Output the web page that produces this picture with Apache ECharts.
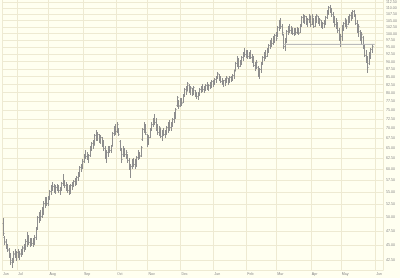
<!DOCTYPE html>
<html><head><meta charset="utf-8">
<script src="https://cdn.jsdelivr.net/npm/echarts@6/dist/echarts.min.js"></script>
<style>html,body{margin:0;padding:0;background:#fffff0}#c{width:400px;height:278px}</style>
</head><body><div id="c"></div>
<script>
const startDate = '2005-06-17';
const endDate = '2006-06-07';
const monthNames = ['Jan','Feb','Mar','Apr','May','Jun','Jul','Aug','Sep','Oct','Nov','Dec'];
const priceTicks = [42.5,45,47.5,50,52.5,55,57.5,60,62.5,65,67.5,70,72.5,75,77.5,80,82.5,85,87.5,90,92.5,95,97.5,100,102.5,105,107.5,110,112.5];
const supportLevel = 96.0;
const supportFrom = '2006-03-07';
const supportTo = '2006-05-31';

const opens = [
49.0,46.4,45.8,45.0,44.3,43.4,42.5,42.6,43.6,43.2,
43.8,43.4,43.6,44.0,44.6,45.0,45.8,46.2,45.6,46.0,45.4,45.9,46.5,48.0,50.0,50.6,50.2,51.6,52.8,53.4,52.8,
54.0,55.2,56.0,56.2,55.6,56.1,55.8,55.4,55.8,57.0,56.8,56.4,55.9,55.4,55.2,56.5,57.0,57.3,57.8,58.3,59.0,60.5,60.9,
61.9,63.2,63.0,62.6,63.2,65.2,66.2,65.6,68.2,67.8,68.6,66.9,67.6,65.9,64.9,63.0,64.0,65.0,64.4,65.5,68.7,70.2,
69.2,70.0,66.8,64.9,63.4,64.8,63.5,63.2,62.0,60.4,60.8,61.8,61.2,60.9,62.8,64.0,63.2,67.2,69.8,70.8,68.4,
66.2,67.8,69.8,71.2,72.3,71.6,70.2,69.0,70.0,68.0,69.2,68.5,69.3,70.3,71.2,70.2,71.3,72.4,74.0,76.4,77.6,76.3,
78.0,77.4,79.4,81.2,81.0,82.5,80.8,81.3,79.8,80.7,79.4,79.0,80.0,81.2,81.8,81.0,81.8,82.4,81.6,82.5,83.0,83.6,
82.8,84.3,85.0,85.8,84.4,83.6,83.0,83.8,84.2,84.5,83.4,85.0,84.2,85.6,87.4,89.5,90.2,88.6,90.2,91.6,93.0,92.6,
93.6,91.8,93.0,91.6,90.2,88.9,88.0,88.2,85.8,87.4,89.4,91.5,92.9,92.0,94.3,95.7,97.2,96.4,98.7,99.5,
99.4,102.5,104.8,103.0,99.5,95.5,97.8,101.0,102.5,101.2,102.0,100.3,101.8,100.5,102.0,100.6,103.3,106.3,105.0,106.8,104.2,105.6,106.6,
103.8,106.0,103.0,106.4,106.8,104.6,105.2,103.0,104.0,105.0,106.5,108.9,110.5,109.2,107.6,105.2,103.6,104.3,101.2,98.2,
99.2,102.8,104.0,105.2,103.7,106.4,107.2,108.0,108.8,107.4,104.2,101.2,101.0,98.2,98.8,95.2,92.4,90.4,89.4,92.8,94.2
];
const highs = [
49.8,46.6,46.0,45.3,44.6,43.7,42.9,44.0,44.3,44.0,
44.3,44.0,44.3,44.9,45.3,46.0,47.4,46.7,46.3,46.3,46.3,46.7,48.2,50.3,51.1,51.5,51.9,53.1,53.9,53.9,54.3,
55.5,56.4,57.2,56.8,56.4,56.8,56.4,56.0,57.2,58.9,57.6,57.2,56.8,56.4,56.8,57.2,57.6,58.0,58.5,59.3,60.8,61.2,62.2,
63.5,64.5,64.0,63.5,65.5,66.5,67.0,68.6,69.6,69.1,68.6,68.1,67.6,67.0,65.5,64.5,65.5,65.5,65.8,69.1,70.6,71.1,
71.6,70.1,67.0,65.0,65.5,65.0,64.5,63.5,62.6,61.2,62.2,62.6,62.2,63.1,64.5,64.0,65.5,70.1,71.6,71.1,68.6,
68.1,70.1,71.6,72.7,73.9,72.7,71.1,70.6,70.1,69.6,70.1,69.6,70.6,71.6,72.2,71.6,72.7,74.4,75.5,79.1,77.9,78.5,
78.5,79.7,81.5,82.1,83.3,82.7,82.1,81.5,82.1,80.9,80.3,80.3,81.5,82.1,82.7,82.1,82.7,83.3,82.7,83.3,84.0,84.0,
84.6,85.3,86.6,85.9,85.3,84.6,84.0,84.6,85.3,84.6,85.3,85.3,85.9,87.2,89.8,91.9,91.3,90.5,91.9,93.3,94.7,94.0,
94.0,93.3,94.0,92.6,91.9,89.8,90.5,88.5,87.9,89.8,91.9,93.3,94.0,94.7,96.1,97.6,98.3,99.1,99.9,100.6,
102.9,105.3,106.1,103.7,99.9,98.3,101.4,102.9,103.7,102.9,102.2,102.2,102.2,102.5,102.2,103.7,106.9,107.7,107.3,106.9,106.1,107.7,106.9,
107.7,106.1,106.9,107.7,106.9,106.1,105.3,104.5,105.3,106.9,109.3,111.0,111.4,110.2,108.5,106.9,106.1,104.5,102.2,99.9,
103.3,104.5,106.1,105.3,106.9,107.7,108.5,109.3,109.3,107.7,105.3,103.7,101.4,100.6,99.1,96.1,94.0,91.9,93.3,94.7,96.1
];
const lows = [
46.8,45.3,44.6,44.0,43.0,42.0,41.4,42.3,43.0,42.6,
43.0,42.8,43.2,43.6,44.0,44.3,44.9,45.3,44.9,45.1,44.9,45.3,46.0,47.8,49.2,49.6,50.0,50.7,51.9,52.3,52.3,
53.5,54.7,55.5,55.1,54.9,55.5,55.1,54.7,55.5,56.4,56.0,55.5,55.1,54.7,54.9,55.7,56.2,56.4,56.8,57.6,58.5,59.5,60.3,
61.7,62.6,62.2,61.7,63.1,64.5,65.0,66.0,67.0,67.0,66.5,66.3,65.5,64.5,62.6,61.5,63.1,64.0,64.0,65.8,68.1,68.6,
69.1,68.1,64.5,61.7,63.1,63.1,62.6,61.7,59.9,58.3,60.3,60.8,60.3,60.8,62.2,62.6,63.1,67.0,69.1,68.6,65.5,
66.0,67.6,69.6,70.6,71.1,69.6,68.6,68.1,67.6,67.0,68.1,67.6,68.6,69.1,69.6,69.6,70.6,71.6,72.7,76.1,75.5,76.1,
76.4,77.3,79.1,79.7,80.9,80.3,79.7,79.4,79.7,79.1,78.5,78.2,79.4,80.3,80.6,80.3,80.9,81.2,80.9,81.5,81.8,82.1,
82.7,83.3,84.6,84.0,83.3,82.7,82.1,82.4,83.3,82.7,83.3,83.6,84.0,84.6,87.2,88.5,87.9,88.5,89.2,90.5,91.9,91.6,
91.3,91.3,91.3,89.8,88.5,87.2,87.9,85.3,84.6,86.6,89.2,90.5,91.3,91.9,93.3,94.7,95.4,96.1,96.9,97.6,
99.1,101.4,102.2,99.9,94.7,94.0,96.9,99.9,100.6,100.3,99.9,99.5,99.9,100.3,99.9,100.6,102.9,104.5,104.1,103.7,102.9,104.5,102.9,
103.7,102.5,102.9,104.5,104.1,103.3,102.5,102.2,102.5,103.7,106.1,107.7,108.5,106.9,104.5,102.9,102.2,100.6,97.6,95.4,
97.6,101.4,102.9,102.2,103.7,104.5,105.3,106.1,106.9,103.7,100.6,99.1,97.6,96.1,94.7,91.9,89.8,86.6,89.2,91.3,93.3
];
const closes = [
47.2,45.5,44.8,44.2,43.2,42.3,42.6,43.7,43.3,43.8,
43.4,43.7,44.1,44.7,45.0,45.8,46.2,45.6,46.0,45.4,45.9,46.5,47.9,50.0,50.6,50.2,51.6,52.8,53.4,52.8,54.0,
55.2,56.0,56.2,55.6,56.1,55.8,55.4,55.8,57.0,56.8,56.4,55.9,55.4,55.2,56.5,57.0,57.3,57.8,58.3,59.0,60.5,60.9,61.9,
63.2,63.0,62.6,63.2,65.2,66.2,65.6,68.2,67.8,68.6,66.9,67.6,65.9,64.9,63.0,64.0,65.0,64.4,65.5,68.7,70.2,69.2,
71.2,68.5,64.9,62.4,65.0,63.5,64.0,62.0,60.4,60.8,61.8,61.2,60.8,62.8,64.0,63.0,65.2,69.8,70.8,69.0,66.0,
67.8,69.8,71.2,72.3,71.6,70.2,69.0,70.2,68.0,69.2,68.5,69.3,70.3,71.2,70.2,71.3,72.4,74.0,75.2,78.8,76.0,78.0,
77.0,79.4,81.2,80.4,83.0,80.8,81.6,79.8,81.8,79.4,79.0,80.0,81.2,81.8,81.0,81.8,82.4,81.6,82.5,83.0,83.6,82.6,
84.3,85.0,86.2,84.4,83.6,83.0,83.8,84.2,84.8,83.2,85.0,84.2,85.6,86.9,89.5,90.2,88.6,90.2,91.6,93.0,92.6,93.6,
91.8,93.0,91.6,90.2,88.9,88.0,89.8,85.8,87.4,89.4,91.5,92.9,92.0,94.3,95.7,97.2,96.4,98.7,99.5,98.4,
102.5,104.8,103.0,100.5,95.5,97.8,101.0,102.5,101.2,102.4,100.3,101.8,100.5,102.0,100.4,103.3,106.3,105.0,106.8,104.2,105.6,107.2,103.6,
107.0,103.0,106.4,107.2,104.6,105.6,103.0,104.0,105.0,106.5,108.9,110.5,109.2,107.6,105.2,103.6,105.2,101.2,98.2,99.2,
102.8,104.0,105.6,103.0,106.4,107.2,108.0,108.8,107.4,104.2,101.2,102.8,98.2,99.8,95.2,92.4,90.4,88.0,92.8,94.2,95.6
];

// trading-day categories (weekdays)
const dates = [];
for (let d = new Date(startDate + 'T00:00:00Z'); d <= new Date(endDate + 'T00:00:00Z'); d.setUTCDate(d.getUTCDate() + 1)) {
  const wd = d.getUTCDay();
  if (wd !== 0 && wd !== 6) dates.push(d.toISOString().slice(0, 10));
}
function isMonthStart(i) {
  return i === 0 || dates[i].slice(5, 7) !== dates[i - 1].slice(5, 7);
}
const ohlc = opens.map((o, i) => [i, o, highs[i], lows[i], closes[i]]);

const gridColor = '#eeead2';
const barColor = '#8e8e8e';
const chart = echarts.init(document.getElementById('c'));
chart.setOption({
  backgroundColor: '#fffff0',
  animation: false,
  grid: { left: 0, right: 15, top: 0, bottom: 8 },
  xAxis: {
    type: 'category', data: dates, boundaryGap: true,
    axisLine: { show: true, lineStyle: { color: gridColor } },
    axisTick: { show: false },
    axisLabel: {
      interval: (i) => isMonthStart(i),
      formatter: (v) => monthNames[parseInt(v.slice(5, 7), 10) - 1],
      fontSize: 3.6, color: '#8a8a8a', margin: 2, align: 'left', fontFamily: 'Liberation Sans'
    },
    splitLine: { show: true, interval: (i) => isMonthStart(i), lineStyle: { color: gridColor, width: 1 } }
  },
  yAxis: {
    type: 'log', logBase: 10, min: 41.0, max: 113.5, position: 'right',
    axisLine: { show: true, lineStyle: { color: gridColor } },
    axisTick: { show: false, customValues: priceTicks },
    axisLabel: { customValues: priceTicks, formatter: (v) => Number(v).toFixed(2), fontSize: 3.6, color: '#8a8a8a', margin: 3, fontFamily: 'Liberation Sans' },
    splitLine: { show: true, lineStyle: { color: gridColor, width: 1 } }
  },
  series: [
    {
      type: 'custom',
      data: ohlc,
      encode: { x: 0, y: [1, 2, 3, 4] },
      renderItem: function (params, api) {
        const x = api.value(0);
        const o = api.coord([x, api.value(1)]);
        const h = api.coord([x, api.value(2)]);
        const l = api.coord([x, api.value(3)]);
        const c = api.coord([x, api.value(4)]);
        const px = Math.round(h[0]) + 0.5;
        const st = { stroke: barColor, lineWidth: 1 };
        const oy = Math.round(o[1]) + 0.5;
        const cy = Math.round(c[1]) + 0.5;
        return {
          type: 'group',
          children: [
            { type: 'line', shape: { x1: px, y1: Math.round(h[1]), x2: px, y2: Math.round(l[1]) + 1 }, style: st },
            { type: 'line', shape: { x1: px - 1, y1: oy, x2: px, y2: oy }, style: st },
            { type: 'line', shape: { x1: px, y1: cy, x2: px + 1, y2: cy }, style: st }
          ]
        };
      }
    },
    {
      type: 'line',
      data: [[supportFrom, supportLevel], [supportTo, supportLevel]],
      symbol: 'none',
      lineStyle: { color: '#b4b4b4', width: 1 },
      silent: true
    }
  ]
});
</script>
</body></html>
